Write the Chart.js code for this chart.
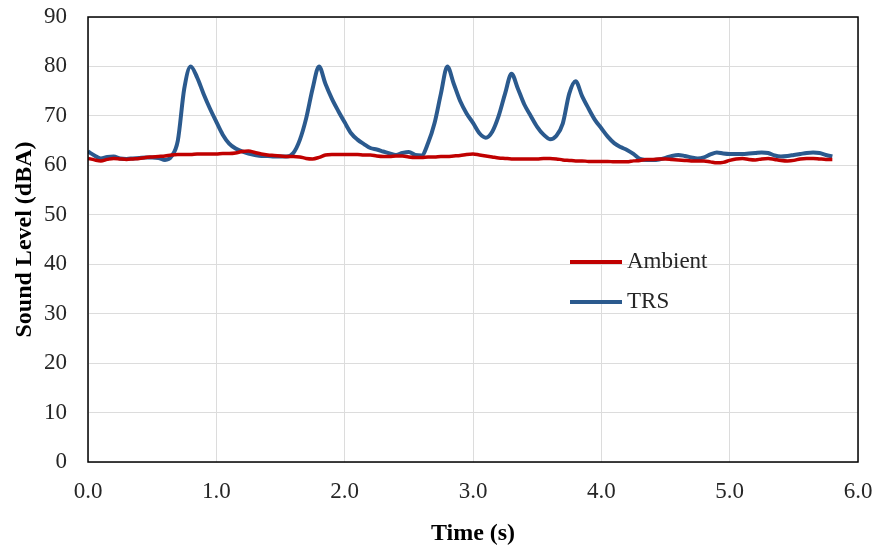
<!DOCTYPE html>
<html>
<head>
<meta charset="utf-8">
<script src="https://cdn.jsdelivr.net/npm/chart.js@4/dist/chart.umd.min.js"></script>
<style>
  html, body { margin: 0; padding: 0; background: #fff; }
  #wrap { width: 875px; height: 553px; }
</style>
</head>
<body>
<div id="wrap"><canvas id="chart"></canvas></div>
<script>
// sample times (s)
const times = [
  0.00, 0.05, 0.10, 0.15, 0.20, 0.25, 0.30, 0.35, 0.40, 0.45, 0.50, 0.55, 0.60, 0.65, 0.70, 0.75, 0.80, 0.85, 0.90, 0.95,
  1.00, 1.05, 1.10, 1.15, 1.20, 1.25, 1.30, 1.35, 1.40, 1.45, 1.50, 1.55, 1.60, 1.65, 1.70, 1.75, 1.80, 1.85, 1.90, 1.95,
  2.00, 2.05, 2.10, 2.15, 2.20, 2.25, 2.30, 2.35, 2.40, 2.45, 2.50, 2.55, 2.60, 2.65, 2.70, 2.75, 2.80, 2.85, 2.90, 2.95,
  3.00, 3.05, 3.10, 3.15, 3.20, 3.25, 3.30, 3.35, 3.40, 3.45, 3.50, 3.55, 3.60, 3.65, 3.70, 3.75, 3.80, 3.85, 3.90, 3.95,
  4.00, 4.05, 4.10, 4.15, 4.20, 4.25, 4.30, 4.35, 4.40, 4.45, 4.50, 4.55, 4.60, 4.65, 4.70, 4.75, 4.80, 4.85, 4.90, 4.95,
  5.00, 5.05, 5.10, 5.15, 5.20, 5.25, 5.30, 5.35, 5.40, 5.45, 5.50, 5.55, 5.60, 5.65, 5.70, 5.75, 5.80
];

const ambient = [
  61.4, 61.1, 60.9, 61.2, 61.4, 61.3, 61.2, 61.3, 61.4, 61.6, 61.7, 61.8, 61.9, 62.1, 62.2, 62.2, 62.2, 62.3, 62.3, 62.3,
  62.3, 62.4, 62.4, 62.5, 62.8, 62.9, 62.6, 62.3, 62.1, 62.0, 61.9, 61.8, 61.8, 61.7, 61.4, 61.3, 61.6, 62.1, 62.2, 62.2,
  62.2, 62.2, 62.2, 62.1, 62.1, 61.9, 61.8, 61.8, 61.9, 61.9, 61.7, 61.6, 61.6, 61.7, 61.7, 61.8, 61.8, 61.9, 62.0, 62.2,
  62.3, 62.1, 61.9, 61.7, 61.5, 61.4, 61.3, 61.3, 61.3, 61.3, 61.3, 61.4, 61.4, 61.3, 61.1, 61.0, 60.9, 60.9, 60.8, 60.8,
  60.8, 60.8, 60.7, 60.7, 60.7, 60.9, 61.0, 61.2, 61.2, 61.3, 61.3, 61.2, 61.1, 61.0, 60.9, 60.9, 60.9, 60.7, 60.5, 60.6,
  61.0, 61.3, 61.4, 61.2, 61.1, 61.3, 61.4, 61.2, 61.0, 60.9, 61.0, 61.3, 61.4, 61.4, 61.3, 61.2, 61.2
];

const trs = [
  62.8, 62.0, 61.4, 61.7, 61.8, 61.4, 61.3, 61.4, 61.5, 61.6, 61.6, 61.5, 61.1, 61.8, 65.0, 75.5, 80.0, 77.8, 74.5, 71.5,
  68.8, 66.2, 64.4, 63.4, 62.8, 62.4, 62.1, 61.9, 61.9, 61.8, 61.8, 61.8, 62.5, 65.1, 69.5, 75.5, 80.0, 76.5, 73.5, 71.0,
  68.7, 66.5, 65.2, 64.3, 63.5, 63.2, 62.8, 62.4, 62.1, 62.5, 62.7, 62.1, 62.0, 64.5, 68.5, 74.5, 80.0, 76.5, 73.0, 70.5,
  68.6, 66.5, 65.6, 66.8, 70.0, 74.5, 78.5, 75.5, 72.3, 70.0, 67.8, 66.2, 65.3, 66.0, 68.5, 74.5, 77.0, 74.0, 71.5, 69.2,
  67.5, 65.8, 64.5, 63.7, 63.1, 62.3, 61.3, 61.1, 61.1, 61.2, 61.5, 61.9, 62.1, 61.9, 61.6, 61.4, 61.6, 62.2, 62.6, 62.4,
  62.3, 62.3, 62.3, 62.4, 62.5, 62.6, 62.5, 62.0, 61.8, 61.9, 62.1, 62.3, 62.5, 62.6, 62.5, 62.1, 61.8
];

const seriesNames = ["Ambient", "TRS"];
const seriesColors = ["#C00000", "#2B5A8E"];

const serif = "'Liberation Serif', 'Times New Roman', serif";

function points(values) {
  return values.map((v, i) => ({ x: times[i], y: v }));
}

// legend drawn inside the plot, like the original
const inlineLegend = {
  id: 'inlineLegend',
  afterDraw(chart) {
    const { ctx, chartArea } = chart;
    const x0 = chartArea.left + 482;
    ctx.save();
    ctx.font = "23px " + serif;
    ctx.textBaseline = 'middle';
    chart.data.datasets.forEach((ds, i) => {
      const y = chartArea.top + 245 + i * 40;
      ctx.strokeStyle = ds.borderColor;
      ctx.lineWidth = 4;
      ctx.beginPath();
      ctx.moveTo(x0, y);
      ctx.lineTo(x0 + 52, y);
      ctx.stroke();
      ctx.fillStyle = '#262626';
      ctx.fillText(ds.label, x0 + 57, y);
    });
    ctx.restore();
  }
};

// dark box around plot area
const plotBorder = {
  id: 'plotBorder',
  afterDatasetsDraw(chart) {
    const { ctx, chartArea } = chart;
    ctx.save();
    ctx.strokeStyle = '#000';
    ctx.lineWidth = 1.5;
    ctx.strokeRect(chartArea.left, chartArea.top, chartArea.right - chartArea.left, chartArea.bottom - chartArea.top);
    ctx.restore();
  }
};

new Chart(document.getElementById('chart'), {
  type: 'line',
  data: {
    datasets: [
      {
        label: seriesNames[0],
        data: points(ambient),
        borderColor: seriesColors[0],
        backgroundColor: seriesColors[0],
        borderWidth: 3.5,
        pointRadius: 0,
        cubicInterpolationMode: 'monotone'
      },
      {
        label: seriesNames[1],
        data: points(trs),
        borderColor: seriesColors[1],
        backgroundColor: seriesColors[1],
        borderWidth: 4,
        pointRadius: 0,
        cubicInterpolationMode: 'monotone'
      }
    ]
  },
  options: {
    responsive: true,
    maintainAspectRatio: false,
    animation: false,
    layout: { padding: { top: 17, right: 17, left: 0, bottom: 0 } },
    plugins: {
      legend: { display: false },
      tooltip: { enabled: false }
    },
    scales: {
      x: {
        type: 'linear',
        min: 0,
        max: 6,
        afterFit(scale) {
          scale.height = 91;
          scale.paddingLeft = 0;
          scale.paddingRight = 0;
        },
        grid: { color: '#dcdcdc', lineWidth: 1, drawTicks: false },
        border: { display: false },
        ticks: {
          stepSize: 1,
          padding: 16,
          color: '#262626',
          font: { family: serif, size: 23 },
          maxRotation: 0,
          callback: v => Number(v).toFixed(1)
        },
        title: {
          display: true,
          text: 'Time (s)',
          color: '#000',
          font: { family: serif, size: 24, weight: 'bold' },
          padding: { top: 0, bottom: 5 }
        }
      },
      y: {
        min: 0,
        max: 90,
        afterFit(scale) {
          scale.width = 88;
          scale.paddingTop = 0;
          scale.paddingBottom = 0;
        },
        grid: { color: '#dcdcdc', lineWidth: 1, drawTicks: false },
        border: { display: false },
        ticks: {
          stepSize: 10,
          padding: 21,
          color: '#262626',
          font: { family: serif, size: 23 }
        },
        title: {
          display: true,
          text: 'Sound Level (dBA)',
          color: '#000',
          font: { family: serif, size: 24, weight: 'bold' },
          padding: { top: 10, bottom: 0 }
        }
      }
    }
  },
  plugins: [inlineLegend, plotBorder]
});
</script>
</body>
</html>
